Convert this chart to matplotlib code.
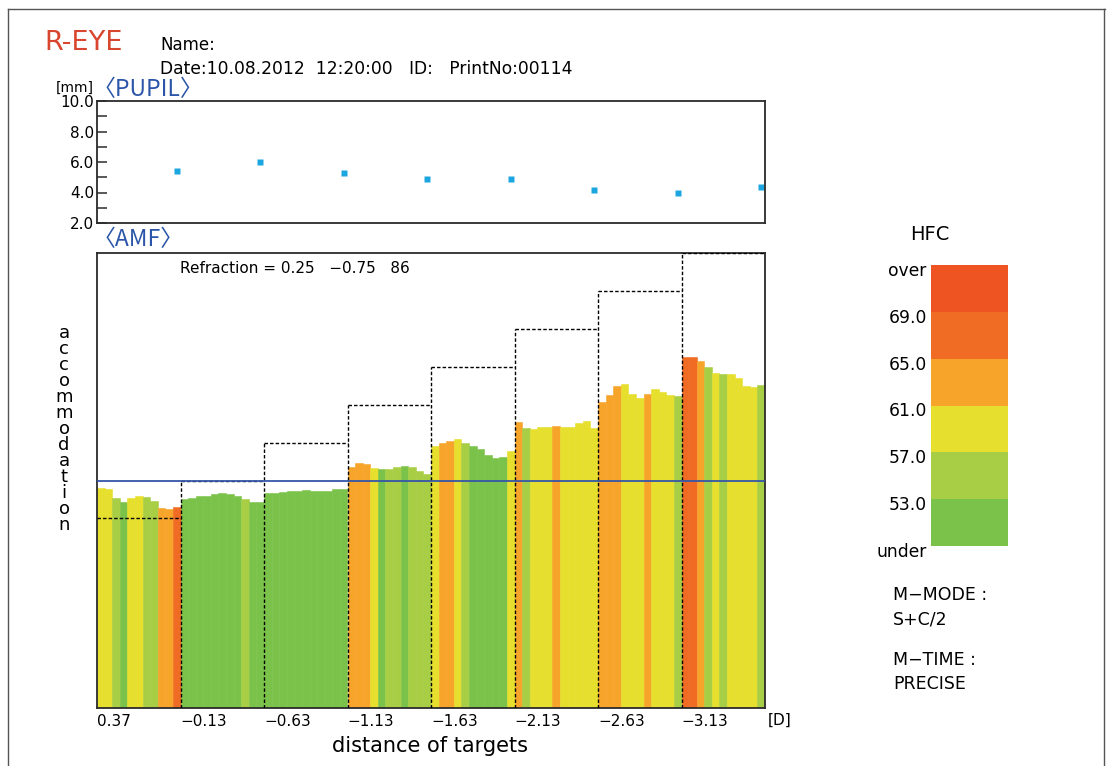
import matplotlib
matplotlib.use("Agg")
import matplotlib.pyplot as plt
import numpy as np
from matplotlib.colors import ListedColormap, BoundaryNorm
from matplotlib.colorbar import ColorbarBase
from matplotlib.transforms import ScaledTranslation

plt.rcParams['font.family'] = ['DejaVu Sans']

# ---------------- data ----------------
target_labels = ['0.37', '\u22120.13', '\u22120.63', '\u22121.13',
                 '\u22121.63', '\u22122.13', '\u22122.63', '\u22123.13']
target_levels = [2.5, 3.0, 3.5, 4.0, 4.5, 5.0, 5.5, 6.0]   # dashed stimulus steps
refraction_level = 3.0                                     # blue line
pupil_mm = [5.40, 6.00, 5.25, 4.90, 4.90, 4.15, 3.95, 4.35]

acc_s1 = [2.90, 2.89, 2.77, 2.72, 2.77, 2.80, 2.78, 2.73, 2.64, 2.62, 2.65]
acc_s2 = [2.76, 2.77, 2.79, 2.80, 2.82, 2.83, 2.82, 2.79, 2.75, 2.71, 2.72]
acc_s3 = [2.84, 2.84, 2.85, 2.86, 2.86, 2.87, 2.86, 2.86, 2.86, 2.89, 2.89]
acc_s4 = [3.18, 3.23, 3.22, 3.16, 3.15, 3.15, 3.18, 3.19, 3.18, 3.13, 3.09]
acc_s5 = [3.46, 3.49, 3.52, 3.55, 3.49, 3.46, 3.42, 3.34, 3.30, 3.31, 3.39]
acc_s6 = [3.77, 3.69, 3.68, 3.71, 3.71, 3.72, 3.71, 3.71, 3.76, 3.78, 3.69]
acc_s7 = [4.04, 4.13, 4.25, 4.27, 4.14, 4.09, 4.14, 4.21, 4.17, 4.13, 4.11]
acc_s8 = [4.63, 4.63, 4.58, 4.50, 4.42, 4.40, 4.40, 4.35, 4.25, 4.23, 4.26]

hfc_s1 = [59, 59, 55, 51, 59, 59, 55, 55, 63, 63, 67]
hfc_s2 = [51, 51, 51, 51, 51, 51, 51, 51, 55, 51, 51]
hfc_s3 = [51, 51, 51, 51, 51, 51, 51, 51, 51, 51, 51]
hfc_s4 = [63, 63, 63, 59, 51, 55, 55, 51, 55, 55, 55]
hfc_s5 = [59, 63, 63, 59, 55, 51, 51, 51, 51, 51, 59]
hfc_s6 = [63, 55, 59, 59, 59, 63, 59, 59, 59, 59, 59]
hfc_s7 = [63, 63, 63, 59, 59, 59, 63, 59, 59, 59, 55]
hfc_s8 = [67, 67, 63, 55, 59, 55, 59, 59, 59, 59, 55]

hfc_bounds = [49, 53, 57, 61, 65, 69, 73]
hfc_colors = ['#7bc24a', '#a8ce45', '#e7df2d', '#f7a42a', '#f06b24', '#ee5322']
hfc_tick_labels = ['under', '53.0', '57.0', '61.0', '65.0', '69.0', 'over']

pupil_ticks = [2, 4, 6, 8, 10]

# ---------------- figure ----------------
W, H = 1114, 766
fig = plt.figure(figsize=(W / 100, H / 100), dpi=100)
fig.patch.set_facecolor('white')


def fx(x):
    return x / W


def fy(y):
    return 1 - y / H


def ftext(x, y, s, **kw):
    kw.setdefault('va', 'center')
    kw.setdefault('ha', 'left')
    return fig.text(fx(x), fy(y), s, **kw)


acc_sections = [acc_s1, acc_s2, acc_s3, acc_s4, acc_s5, acc_s6, acc_s7, acc_s8]
hfc_sections = [hfc_s1, hfc_s2, hfc_s3, hfc_s4, hfc_s5, hfc_s6, hfc_s7, hfc_s8]
accommodation = np.concatenate(acc_sections)
hfc = np.concatenate(hfc_sections)
nper = len(acc_s1)
nsec = len(acc_sections)
ntot = nper * nsec

cmap = ListedColormap(hfc_colors)
norm = BoundaryNorm(hfc_bounds, cmap.N)

spine_col = '#2b2b2b'

# ---------- pupil panel ----------
axp = fig.add_axes([fx(97), fy(223), fx(765) - fx(97), (223 - 101) / H])
sec_idx = np.arange(nsec)
axp.plot(sec_idx * nper + nper - 0.5, pupil_mm, 's', color='#1ca6df',
         ms=5, mec='none', clip_on=False)
axp.set_xlim(0, ntot)
axp.set_ylim(2, 10)
axp.set_xticks([])
axp.set_yticks(np.arange(2, 11, 1), minor=False)
axp.set_yticklabels(['%.1f' % v if v in pupil_ticks else '' for v in np.arange(2, 11, 1)],
                    fontsize=11)
axp.tick_params(axis='y', direction='in', length=7, width=1.1, color=spine_col, pad=2)
for s in axp.spines.values():
    s.set_color(spine_col)
    s.set_linewidth(1.3)

# ---------- AMF panel ----------
axa = fig.add_axes([fx(97), fy(708), fx(765) - fx(97), (708 - 253) / H])
x = np.arange(ntot)
cols = cmap(norm(hfc))
axa.bar(x, accommodation, width=1.0, align='edge', color=cols,
        edgecolor=cols, linewidth=0.4, zorder=1)

for k, lev in enumerate(target_levels):
    x0, x1 = k * nper, (k + 1) * nper
    axa.plot([x0, x1], [lev, lev], color='black', lw=1.0,
             dashes=(2.5, 1.5), zorder=3)
    if k > 0:
        axa.plot([x0, x0], [0, lev], color='black', lw=1.0,
                 dashes=(2.5, 1.5), zorder=3)
axa.axhline(refraction_level, color='#3556a8', lw=1.3, zorder=4)

axa.set_xlim(0, ntot)
axa.set_ylim(0, 6.0)
axa.set_yticks([])
axa.set_xticks(np.arange(nsec) * nper)
axa.set_xticklabels(target_labels, fontsize=11)
for lbl in axa.get_xticklabels():
    lbl.set_ha('left')
axa.tick_params(axis='x', length=0, pad=4)
for s in axa.spines.values():
    s.set_color(spine_col)
    s.set_linewidth(1.3)

axa.text(0.124, 0.965, 'Refraction = 0.25   \u22120.75   86', transform=axa.transAxes,
         fontsize=11, va='center', ha='left')

# ---------- colour legend ----------
axc = fig.add_axes([fx(931), fy(546), fx(1008) - fx(931), (546 - 265) / H])
cb = ColorbarBase(axc, cmap=cmap, norm=norm, boundaries=hfc_bounds,
                  ticks=hfc_bounds, spacing='uniform', orientation='vertical')
cb.outline.set_visible(False)
axc.yaxis.set_ticks_position('left')
axc.set_yticklabels(hfc_tick_labels, fontsize=12.3)
axc.tick_params(axis='y', length=0, pad=3)
off = ScaledTranslation(0, -4 / 100, fig.dpi_scale_trans)
for lbl in axc.get_yticklabels():
    lbl.set_transform(lbl.get_transform() + off)

# ---------- texts ----------
ftext(44, 43, 'R-EYE', color='#d9462f', fontsize=19.5)
ftext(160, 45, 'Name:', fontsize=12)
ftext(160, 69, 'Date:10.08.2012  12:20:00   ID:   PrintNo:00114', fontsize=12.3)
ftext(56, 88, '[mm]', fontsize=10)
ftext(93, 90, '\u3008PUPIL\u3009', color='#2a55a8', fontsize=16.5,
      family=['Noto Sans CJK JP', 'DejaVu Sans'])
ftext(93, 240, '\u3008AMF\u3009', color='#2a55a8', fontsize=16.5,
      family=['Noto Sans CJK JP', 'DejaVu Sans'])
ftext(64, 429, '\n'.join('accommodation'), ha='center', fontsize=13,
      linespacing=0.86)
ftext(430, 746, 'distance of targets', ha='center', fontsize=15)
ftext(768, 720, '[D]', fontsize=11)
ftext(930, 235, 'HFC', ha='center', fontsize=14)
ftext(893, 595, 'M\u2212MODE :', fontsize=12.5)
ftext(893, 620, 'S+C/2', fontsize=12.5)
ftext(893, 660, 'M\u2212TIME :', fontsize=12.5)
ftext(893, 684, 'PRECISE', fontsize=12.5)

# page frame
fig.add_artist(plt.Line2D([fx(8), fx(1105)], [fy(9), fy(9)], color='#555555', lw=1))
fig.add_artist(plt.Line2D([fx(8), fx(8)], [fy(9), fy(766)], color='#555555', lw=1))
fig.add_artist(plt.Line2D([fx(1104), fx(1104)], [fy(9), fy(766)], color='#555555', lw=1))

fig.savefig('out.png', dpi=100)
